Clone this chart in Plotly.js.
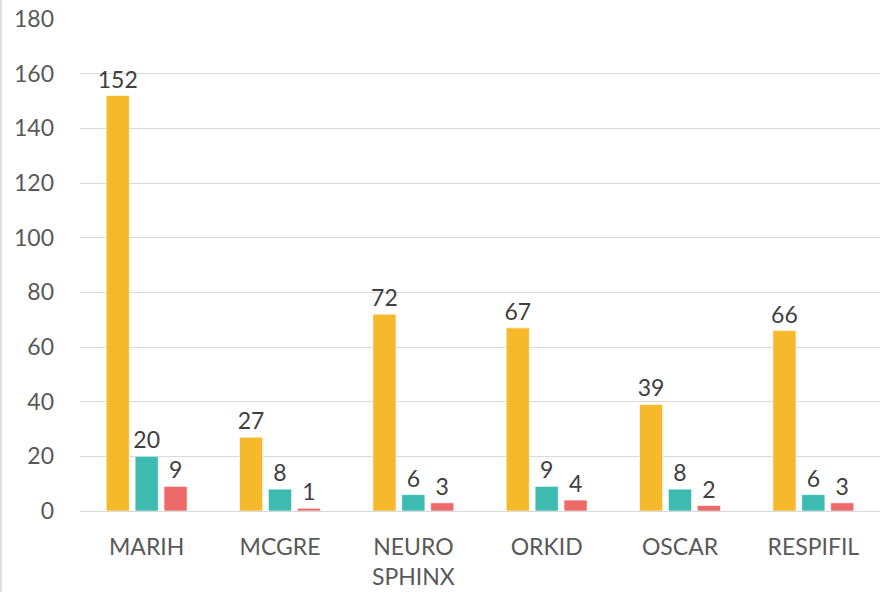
<!DOCTYPE html>
<html><head><meta charset="utf-8">
<script src="https://cdn.plot.ly/plotly-3.0.1.min.js"></script>
<style>html,body{margin:0;padding:0;background:#fff}#c{width:880px;height:592px;box-sizing:border-box;border-left:2px solid #e0e0e0}</style>
</head><body><div id="c"></div>
<script>
const categories = ['MARIH','MCGRE','NEURO<br>SPHINX','ORKID','OSCAR','RESPIFIL'];
const seriesA = [152, 27, 72, 67, 39, 66];
const seriesB = [20, 8, 6, 9, 8, 6];
const seriesC = [9, 1, 3, 4, 2, 3];
const yTicks = [0,20,40,60,80,100,120,140,160,180];
const colors = ['#F6B92B', '#3DBBB1', '#EE6A6A'];

const mk = (y, col) => ({
  type: 'bar', x: categories, y: y,
  marker: {color: col, line: {color: 'rgba(255,255,255,0.6)', width: 1}},
  text: y.map(String), textposition: 'outside', cliponaxis: false, constraintext: 'none',
  textfont: {family: 'Lato, "Open Sans", sans-serif', size: 23, color: '#404040'},
  hoverinfo: 'none'
});
const data = [mk(seriesA, colors[0]), mk(seriesB, colors[1]), mk(seriesC, colors[2])];
const layout = {
  width: 878, height: 592,
  margin: {l: 78, r: 0, t: 19, b: 81},
  showlegend: false, barmode: 'group', bargap: 0.35, bargroupgap: 0.2,
  paper_bgcolor: '#fff', plot_bgcolor: '#fff',
  font: {family: 'Lato, "Open Sans", sans-serif', color: '#595959', size: 23},
  xaxis: {showgrid: false, showline: false, zeroline: false, ticks: '', ticklabelstandoff: 20,
    tickfont: {size: 23, color: '#595959'}, fixedrange: true},
  yaxis: {range: [0, 180], tickvals: yTicks, ticktext: yTicks.map(String),
    showgrid: true, gridcolor: '#d9d9d9', gridwidth: 1, zeroline: true, zerolinecolor: '#d9d9d9', zerolinewidth: 1,
    showline: false, ticks: '', ticklabelstandoff: 25, tickfont: {size: 23, color: '#595959'}, fixedrange: true}
};
Plotly.newPlot('c', data, layout, {displayModeBar: false, staticPlot: true});
</script></body></html>
